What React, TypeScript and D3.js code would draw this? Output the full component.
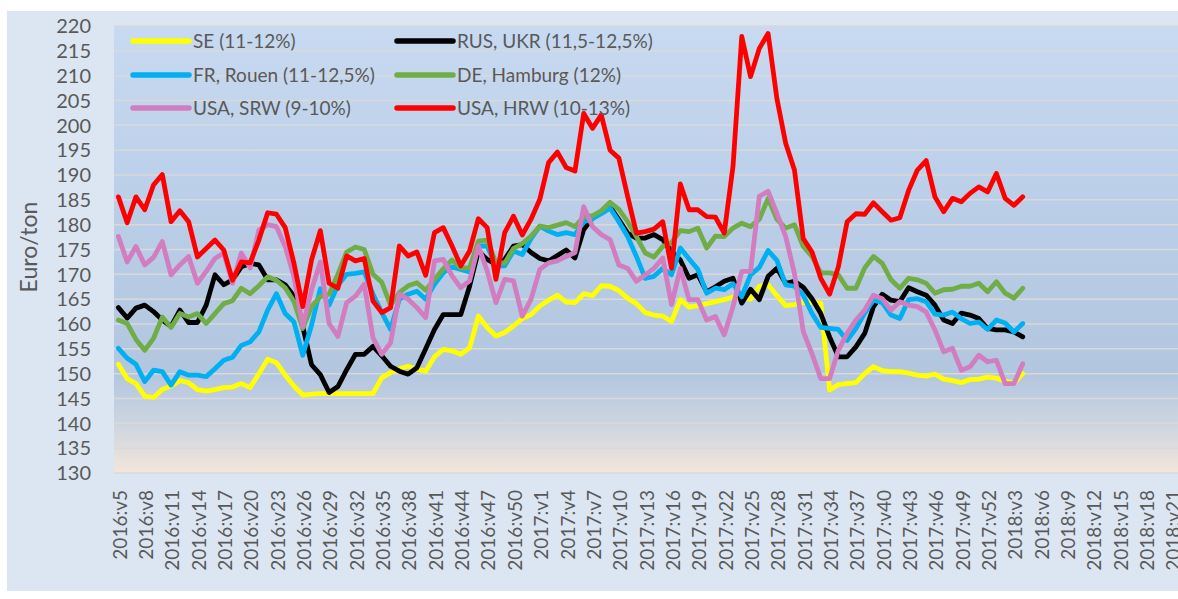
import React from "react";
import * as d3 from "d3";

// ---- categories (weeks) ----
const years = [2016, 2017, 2018];
const firstWeek = [5, 1, 1];
const lastWeek = [52, 52, 24];
const categories: string[] = [];
years.forEach((y, k) => {
  for (let w = firstWeek[k]; w <= lastWeek[k]; w++) categories.push(`${y}:v${w}`);
});

const yTicks = [130, 135, 140, 145, 150, 155, 160, 165, 170, 175, 180, 185, 190, 195, 200, 205, 210, 215, 220];

// ---- series values (Euro/ton), from 2016:v5 ----
const seValues = [151.9,149,148,145.5,145.2,146.8,147.5,148.6,148.2,146.8,146.5,146.8,147.2,147.3,148,147.2,150,152.9,152.2,149.7,147.5,145.7,145.9,146,146,146,146,146,146,146,149.2,150.2,151,151.5,150.9,150.5,153.4,154.9,154.6,153.9,155.2,161.6,159.3,157.6,158.3,159.6,161.1,161.9,163.6,164.8,165.8,164.4,164.3,166.1,165.7,167.7,167.6,166.7,165.2,164.1,162.3,161.8,161.6,160.5,164.9,163.4,163.7,164.1,164.5,164.9,165.4,165.2,165,167.6,167.9,165.7,163.7,163.9,164.3,164.3,164.2,146.7,147.8,148,148.2,150,151.4,150.6,150.4,150.4,150.1,149.7,149.5,149.9,148.9,148.6,148.2,148.8,148.9,149.3,149.1,148.5,148.1,150];
const rusValues = [163.3,161.2,163.2,163.8,162.5,160.8,159.5,162.8,160.3,160.3,163.8,169.9,167.9,168.9,171.5,172.2,171.9,168.9,168.9,167.9,165.6,159.5,151.8,149.8,146.2,147.4,150.8,153.9,153.9,155.5,153.6,151.5,150.5,149.9,151.2,155,158.9,161.9,161.9,161.9,167.6,174.7,173,172,173,175.7,176,174.4,173.2,172.7,173.8,174.9,173.3,179,181.3,182.6,183.6,181,178.3,177.3,177.3,178,177,174.6,172.9,169.2,169.9,166.5,167.5,168.6,169.2,164.2,167,164.9,169.6,171.2,168.2,168.6,167.4,165.1,162.1,157.4,153.4,153.4,155.4,158.1,163.5,166,164.8,164.5,167.3,166.5,165.8,163.8,160.8,160.1,162.2,161.8,161.1,159.1,158.8,158.8,158.4,157.4];
const frValues = [155.1,153.1,151.9,148.4,150.7,150.4,147.7,150.4,149.7,149.7,149.4,151,152.7,153.3,155.7,156.4,158.4,162.8,166.1,162.1,160.4,153.7,159.8,167.1,163.8,167.8,170,170.2,170.5,166,162.3,158.9,165,166,166.6,165,168,170.3,171.5,171,170.5,175.7,175.7,171.7,171.7,174.7,174,177.2,179.7,178.7,178,178.4,178,180.6,181.2,182.2,183.3,180.6,177.6,173.6,169.2,169.6,171.2,169.9,175.3,173.1,171,166.2,167.2,166.9,168.1,165.5,169.9,171.4,174.8,172.8,167.9,167.6,165.8,162.1,159.3,159.1,158.9,156.7,159.1,162.2,164.8,164.3,161.8,161.1,164.9,165.1,164.5,162,161.8,162.4,161.1,160.1,160.4,158.9,160.8,160.2,158.4,160.1];
const deValues = [160.8,160.1,156.9,154.7,157.1,161.4,159.3,162.1,161.4,162.1,160.1,162.1,164.1,164.7,167.2,166.1,167.7,169.5,168.8,167.3,164.5,159.1,163.5,165.5,166,170,174.5,175.5,175,170,168.4,163.8,166.3,167.7,168.3,166.8,169,171.1,172.9,171.3,171.3,176.7,176.9,172.3,172.3,175.2,176.2,177.7,179.7,179.4,179.9,180.4,179.6,181.6,181.8,182.8,184.5,183.1,180.6,177.6,174.3,173.5,175.6,176.4,178.8,178.6,179.3,175.3,177.7,177.6,179.3,180.3,179.6,181.1,185.3,181.1,179.3,180,175.6,173.6,170.3,170.3,169.9,167.2,167.2,171.3,173.6,172.2,168.9,167.2,169.2,168.9,168.2,166.2,166.9,167,167.6,167.6,168.2,166.5,168.5,166.2,165.2,167.2];
const srwValues = [177.6,172.5,175.6,171.9,173.4,176.6,169.9,171.9,173.6,168.2,170.6,173.2,174.3,168.2,174.3,171.3,178.9,180,179.6,175.6,169.5,159.5,166.9,172.5,160.1,157.5,164.3,165.6,168,157.2,153.9,156.2,166,165,163.3,161.3,172.7,173,169.7,167.3,168.7,175.7,170.7,164.3,169,168.7,161.6,165,171,172.3,172.7,173.6,174.4,183.6,179.6,178,177,171.9,171.2,168.6,169.9,171.2,173.3,163.9,171.2,164.9,164.9,160.8,161.5,157.8,163.5,170.6,170.6,185.7,186.7,182.3,177.6,170.2,158.5,154,149,149,154.7,158.1,160.8,162.8,165.8,165.1,162.8,164.5,163.8,163.5,162.4,158.8,154.4,155.1,150.7,151.4,153.7,152.4,152.7,148,148,152];
const hrwValues = [185.6,180.4,185.6,183,188,190.1,180.6,182.8,180.6,173.5,175.2,176.9,174.9,168.8,172.5,172.3,176.9,182.4,182.1,179.4,172.2,163.5,172.9,178.8,168.2,167.2,173.7,172.7,173.2,164.6,162.3,163.3,175.7,173.7,174.5,169.8,178.4,179.4,175.7,171.7,174.7,181.2,179.4,169,178.4,181.7,177.9,181.1,185.1,192.5,194.6,191.5,190.8,202.4,199.4,202.1,195,193.4,185.7,178.3,178.6,179.1,180.6,171.2,188.2,183,183,181.6,181.5,178.3,191.7,217.9,209.8,215.5,218.5,205.4,196.4,191,177.2,174.5,169.2,166,171.5,180.6,182.2,182.1,184.4,182.6,180.9,181.4,186.9,191,192.9,185.6,182.6,185.3,184.6,186.3,187.6,186.6,190.3,185.3,183.9,185.6];

const seriesNames = ["SE (11-12%)", "RUS, UKR (11,5-12,5%)", "FR, Rouen (11-12,5%)", "DE, Hamburg (12%)", "USA, SRW (9-10%)", "USA, HRW (10-13%)"];
const seriesColors = ["#FFFF00", "#000000", "#00B0F0", "#70AD47", "#D17DC0", "#FF0000"];
const seriesValues = [seValues, rusValues, frValues, deValues, srwValues, hrwValues];

const W = 1178;
const H = 599;
const plotLeft = 114;
const plotTop = 26;
const plotBottom = 473;
const step = 8.78;
const FONT = "Lato, 'Open Sans', sans-serif";
const TXT = "#595959";

export default function App() {
  const x = d3
    .scalePoint<string>()
    .domain(categories)
    .range([plotLeft, plotLeft + categories.length * step])
    .padding(0.5);
  const y = d3.scaleLinear().domain([130, 220]).range([plotBottom, plotTop]);
  const plotRight = plotLeft + categories.length * step;

  const line = d3
    .line<number>()
    .x((_, i) => x(categories[i]) as number)
    .y((v) => y(v));

  const legendRows = [41, 75, 108];
  const legendCols = [133, 397];

  return (
    <svg
      width={W}
      height={H}
      style={{ position: "absolute", left: 0, top: 0, fontFamily: FONT }}
    >
      <defs>
        <linearGradient id="plotGrad" x1="0" y1="0" x2="0" y2="1">
          <stop offset="0" stopColor="#C7DAF1" />
          <stop offset="0.45" stopColor="#BACDE7" />
          <stop offset="0.78" stopColor="#B3C6E0" />
          <stop offset="0.9" stopColor="#D0D6E0" />
          <stop offset="1" stopColor="#F4E6DA" />
        </linearGradient>
        <clipPath id="clipAll">
          <rect x={0} y={0} width={W} height={H} />
        </clipPath>
      </defs>
      <rect x={0} y={0} width={W} height={H} fill="#FFFFFF" />
      <rect x={7} y={11} width={W} height={580} fill="#DCE6F2" />
      <rect
        x={plotLeft}
        y={plotTop}
        width={plotRight - plotLeft}
        height={plotBottom - plotTop}
        fill="url(#plotGrad)"
      />
      {yTicks.map((t) => (
        <line
          key={"g" + t}
          x1={plotLeft}
          x2={plotRight}
          y1={y(t)}
          y2={y(t)}
          stroke="#D9D9D9"
          strokeWidth={1.5}
        />
      ))}
      {yTicks.map((t) => (
        <text
          key={"t" + t}
          x={91}
          y={y(t)}
          dy="0.36em"
          textAnchor="end"
          fontSize={20}
          fill={TXT}
        >
          {t}
        </text>
      ))}
      <text
        transform={`translate(${37},${247}) rotate(-90)`}
        textAnchor="middle"
        fontSize={23}
        fill={TXT}
      >
        Euro/ton
      </text>
      {categories.map((c, i) =>
        i % 3 === 0 ? (
          <text
            key={"x" + c}
            transform={`translate(${(x(c) as number) + 1.5},${490}) rotate(-90)`}
            textAnchor="end"
            dy="0.36em"
            fontSize={19}
            fill={TXT}
          >
            {c}
          </text>
        ) : null
      )}
      <g clipPath="url(#clipAll)">
        {seriesValues.map((vals, k) => (
          <path
            key={"s" + k}
            d={line(vals) || ""}
            fill="none"
            stroke={seriesColors[k]}
            strokeWidth={4.8}
            strokeLinejoin="round"
            strokeLinecap="round"
          />
        ))}
      </g>
      {seriesNames.map((name, k) => {
        const col = k % 2;
        const row = Math.floor(k / 2);
        const lx = legendCols[col];
        const ly = legendRows[row];
        return (
          <g key={"l" + k}>
            <line
              x1={lx}
              x2={lx + 56}
              y1={ly}
              y2={ly}
              stroke={seriesColors[k]}
              strokeWidth={5.5}
              strokeLinecap="round"
            />
            <text x={lx + 60} y={ly} dy="0.36em" fontSize={19} fill={TXT}>
              {name}
            </text>
          </g>
        );
      })}
    </svg>
  );
}
